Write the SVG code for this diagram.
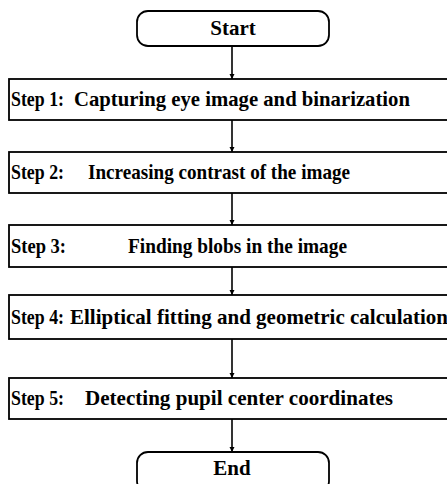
<svg xmlns="http://www.w3.org/2000/svg" width="447" height="484" viewBox="0 0 447 484">
<defs>
<style>
.box{fill:#fff;stroke:#000;stroke-width:1.8}
.t{font-family:"Liberation Serif","Times New Roman",serif;font-weight:bold;font-size:21px;fill:#000}
.c{stroke:#000;stroke-width:1.6;fill:none}
</style>
<marker id="ah" markerWidth="6" markerHeight="6" refX="5" refY="3" orient="auto" markerUnits="userSpaceOnUse">
<path d="M0,0.5 L5,3 L0,5.5 Z" fill="#000"/>
</marker>
</defs>
<rect width="447" height="484" fill="#fff"/>
<g id="connectors">
<line class="c" x1="232" y1="46" x2="232" y2="79" marker-end="url(#ah)"/>
<line class="c" x1="232" y1="120" x2="232" y2="152" marker-end="url(#ah)"/>
<line class="c" x1="232" y1="193" x2="232" y2="225" marker-end="url(#ah)"/>
<line class="c" x1="232" y1="267" x2="232" y2="295" marker-end="url(#ah)"/>
<line class="c" x1="232" y1="339" x2="232" y2="378" marker-end="url(#ah)"/>
<line class="c" x1="232" y1="419" x2="232" y2="452" marker-end="url(#ah)"/>
</g>
<g id="start">
<rect class="box" x="137" y="11" width="192" height="35" rx="11"/>
<text class="t" x="233" y="35" text-anchor="middle">Start</text>
</g>
<g id="step1">
<rect class="box" x="9" y="79" width="450" height="41"/>
<text class="t" y="106"><tspan x="11" textLength="53" lengthAdjust="spacingAndGlyphs">Step 1:</tspan><tspan x="74" textLength="336" lengthAdjust="spacingAndGlyphs">Capturing eye image and binarization</tspan></text>
</g>
<g id="step2">
<rect class="box" x="9" y="152" width="450" height="41"/>
<text class="t" y="179"><tspan x="11" textLength="53" lengthAdjust="spacingAndGlyphs">Step 2:</tspan><tspan x="88" textLength="262" lengthAdjust="spacingAndGlyphs">Increasing contrast of the image</tspan></text>
</g>
<g id="step3">
<rect class="box" x="9" y="225" width="450" height="42"/>
<text class="t" y="253"><tspan x="11" textLength="55" lengthAdjust="spacingAndGlyphs">Step 3:</tspan><tspan x="128" textLength="219" lengthAdjust="spacingAndGlyphs">Finding blobs in the image</tspan></text>
</g>
<g id="step4">
<rect class="box" x="9" y="295" width="450" height="44"/>
<text class="t" y="324"><tspan x="11" textLength="53" lengthAdjust="spacingAndGlyphs">Step 4:</tspan><tspan x="70" textLength="378" lengthAdjust="spacingAndGlyphs">Elliptical fitting and geometric calculation</tspan></text>
</g>
<g id="step5">
<rect class="box" x="9" y="378" width="450" height="41"/>
<text class="t" y="405"><tspan x="11" textLength="53" lengthAdjust="spacingAndGlyphs">Step 5:</tspan><tspan x="85" textLength="308" lengthAdjust="spacingAndGlyphs">Detecting pupil center coordinates</tspan></text>
</g>
<g id="end">
<rect class="box" x="137" y="452" width="192" height="40" rx="11"/>
<text class="t" x="232" y="475" text-anchor="middle">End</text>
</g>
</svg>
